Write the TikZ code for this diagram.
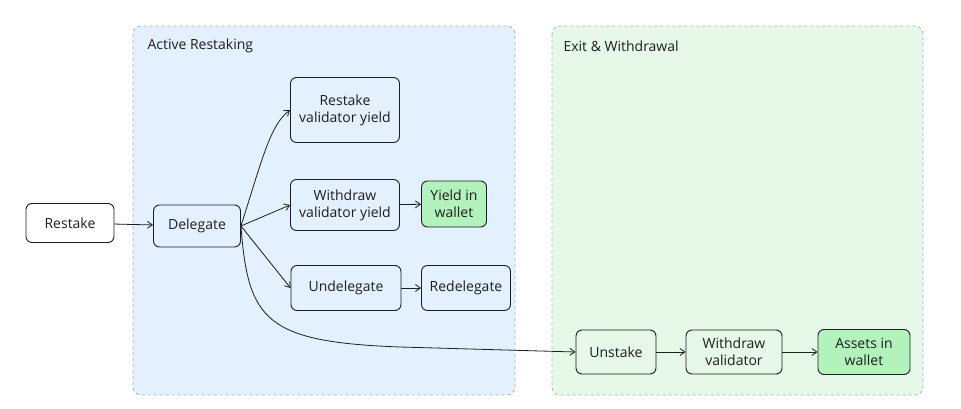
\documentclass[tikz,border=0pt]{standalone}
\usepackage{fontspec}
\setmainfont{Open Sans}
\usetikzlibrary{arrows.meta}
\definecolor{bluebg}{HTML}{E3F0FD}
\definecolor{greenbg}{HTML}{E6F8E8}
\definecolor{greennode}{HTML}{B2F2BB}
\definecolor{ink}{HTML}{1E1E1E}
\begin{document}
\begin{tikzpicture}[x=1pt,y=-1pt,
  panel/.style={draw=gray!60,dashed,line width=0.8pt,rounded corners=8pt},
  box/.style={draw=ink,line width=0.9pt,rounded corners=6pt,align=center,inner sep=0pt,font=\fontsize{14}{17}\selectfont,text=ink},
  lab/.style={anchor=west,font=\fontsize{14}{17}\selectfont,text=ink},
  arr/.style={draw=ink,line width=0.8pt,-{Straight Barb[length=5pt,width=7pt]}}]
\useasboundingbox (0,0) rectangle (961,409);
\fill[white] (0,0) rectangle (961,409);
\draw[panel,fill=bluebg] (133,26) rectangle (515,395);
\draw[panel,fill=greenbg] (552,26) rectangle (923,395);
\node[lab] (t1) at (144,46) {Active Restaking};
\node[lab] (t2) at (560,46) {Exit \& Withdrawal};
\node[box,fill=white,minimum width=88,minimum height=39] (restake) at (70,223) {Restake};
\node[box,fill=bluebg,minimum width=87,minimum height=42] (delegate) at (197,226) {Delegate};
\node[box,fill=bluebg,minimum width=109,minimum height=65] (ryield) at (345,110) {Restake\\validator yield};
\node[box,fill=bluebg,minimum width=109,minimum height=51] (wyield) at (345,205) {Withdraw\\validator yield};
\node[box,fill=greennode,minimum width=65,minimum height=46] (ywallet) at (454,204) {Yield in\\wallet};
\node[box,fill=bluebg,minimum width=110,minimum height=45] (undel) at (346,288) {Undelegate};
\node[box,fill=bluebg,minimum width=89,minimum height=45] (redel) at (466,288) {Redelegate};
\node[box,fill=greenbg,minimum width=80,minimum height=44] (unstake) at (616,352) {Unstake};
\node[box,fill=greenbg,minimum width=96,minimum height=44] (wval) at (734,352) {Withdraw\\validator};
\node[box,fill=greennode,minimum width=92,minimum height=45] (assets) at (864,352) {Assets in\\wallet};
\draw[arr] (restake) -- (delegate);
\draw[arr] (delegate.east) .. controls (262,160) and (270,125) .. (ryield.west);
\draw[arr] (delegate.east) -- (wyield.west);
\draw[arr] (delegate.east) -- (undel.west);
\draw[arr] (delegate.east) .. controls (248,320) and (265,342) .. (400,347) -- (unstake.west);
\draw[arr] (undel) -- (redel);
\draw[arr] (wyield) -- (ywallet);
\draw[arr] (unstake) -- (wval);
\draw[arr] (wval) -- (assets);
\end{tikzpicture}
\end{document}
